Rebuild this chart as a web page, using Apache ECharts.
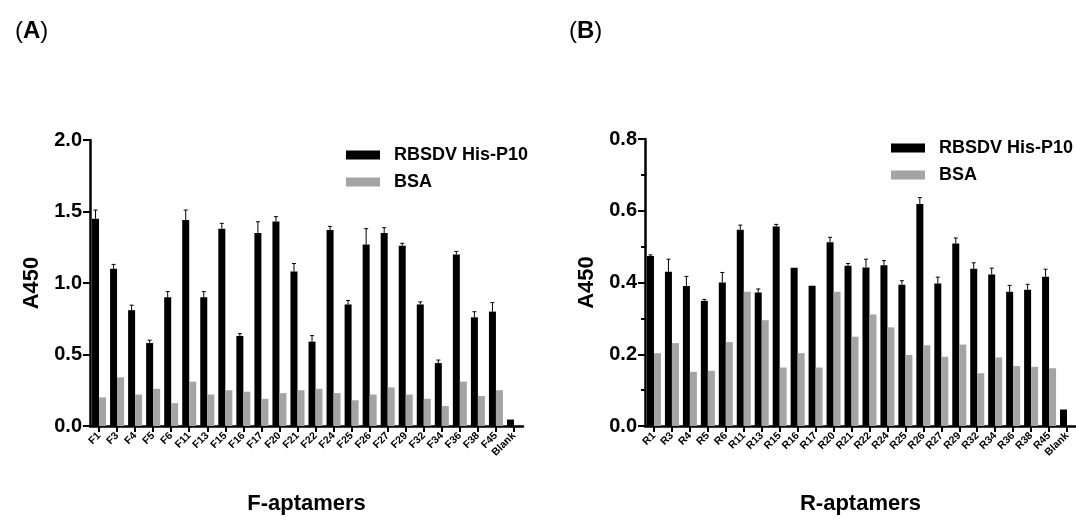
<!DOCTYPE html>
<html>
<head>
<meta charset="utf-8">
<script src="https://cdn.jsdelivr.net/npm/echarts@6/dist/echarts.min.js"></script>
<style>
html,body{margin:0;padding:0;background:#fff;}
#main{width:1076px;height:520px;}
</style>
</head>
<body>
<div id="main"></div>
<script>
// F-aptamers (panel A)
var fNames = ['F1','F3','F4','F5','F6','F11','F13','F15','F16','F17','F20','F21','F22','F24','F25','F26','F27','F29','F32','F34','F36','F38','F45','Blank'];
var fP10 = [1.45,1.10,0.81,0.58,0.90,1.44,0.90,1.38,0.63,1.35,1.43,1.08,0.59,1.37,0.85,1.27,1.35,1.26,0.85,0.44,1.20,0.76,0.80,0.045];
var fP10Err = [0.06,0.03,0.035,0.02,0.04,0.07,0.04,0.037,0.016,0.078,0.034,0.056,0.042,0.026,0.028,0.11,0.037,0.018,0.018,0.021,0.021,0.039,0.063,0];
var fBSA = [0.20,0.34,0.22,0.26,0.16,0.31,0.22,0.25,0.24,0.19,0.23,0.25,0.26,0.23,0.18,0.22,0.27,0.22,0.19,0.14,0.31,0.21,0.25,'-'];

// R-aptamers (panel B)
var rNames = ['R1','R3','R4','R5','R6','R11','R13','R15','R16','R17','R20','R21','R22','R24','R25','R26','R27','R29','R32','R34','R36','R38','R45','Blank'];
var rP10 = [0.474,0.430,0.390,0.349,0.400,0.547,0.372,0.556,0.441,0.391,0.512,0.447,0.442,0.448,0.394,0.619,0.397,0.509,0.438,0.422,0.374,0.380,0.416,0.046];
var rP10Err = [0.003,0.035,0.027,0.004,0.028,0.013,0.01,0.006,0,0,0.014,0.006,0.023,0.013,0.011,0.018,0.018,0.015,0.017,0.018,0.018,0.015,0.021,0];
var rBSA = [0.203,0.231,0.151,0.154,0.234,0.374,0.295,0.163,0.203,0.163,0.374,0.249,0.311,0.275,0.198,0.225,0.193,0.227,0.147,0.191,0.167,0.165,0.161,'-'];

var FONT = '"Liberation Sans", Arial, sans-serif';
var BW = 7;
var GREY = '#a4a4a4';

var myChart = echarts.init(document.getElementById('main'));

function errData(vals, errs){
    var out = [];
    for (var i = 0; i < vals.length; i++) {
        out.push([i, vals[i], errs[i]]);
    }
    return out;
}

// upper-only error bar on the black bar
function renderErr(params, api){
    var e = api.value(2);
    if (!e) return;
    var i = api.value(0), v = api.value(1);
    var p0 = api.coord([i, v]);
    var p1 = api.coord([i, v + e]);
    var x = p0[0] - BW / 2;
    return {
        type: 'group',
        children: [
            {type: 'line', shape: {x1: x, y1: p0[1], x2: x, y2: p1[1]}, style: {stroke: '#000', lineWidth: 1}},
            {type: 'line', shape: {x1: x - 2, y1: p1[1], x2: x + 2, y2: p1[1]}, style: {stroke: '#000', lineWidth: 1}}
        ]
    };
}

function xAxisCfg(idx, names, title){
    return {
        type: 'category', gridIndex: idx, data: names,
        name: title, nameLocation: 'middle', nameGap: 67,
        nameTextStyle: {fontFamily: FONT, fontWeight: 'bold', fontSize: 22, color: '#000'},
        axisLine: {lineStyle: {color: '#000', width: 2.5}},
        axisTick: {show: true, length: 6, lineStyle: {color: '#000', width: 2}, alignWithLabel: true},
        axisLabel: {rotate: 45, interval: 0, margin: 8, fontFamily: FONT, fontWeight: 'bold', fontSize: 10.5, color: '#000'}
    };
}

function yAxisCfg(idx, max, step, minor){
    return {
        type: 'value', gridIndex: idx, min: 0, max: max, interval: step,
        name: 'A450', nameLocation: 'middle', nameGap: 47,
        nameTextStyle: {fontFamily: FONT, fontWeight: 'bold', fontSize: 22, color: '#000'},
        axisLine: {show: true, lineStyle: {color: '#000', width: 2.5}},
        axisTick: {show: true, length: 7, lineStyle: {color: '#000', width: 2}},
        minorTick: {show: minor, splitNumber: 2, length: 4, lineStyle: {color: '#000', width: 2}},
        splitLine: {show: false},
        axisLabel: {margin: 8, fontFamily: FONT, fontWeight: 'bold', fontSize: 20, color: '#000',
            formatter: function(v){ return v.toFixed(1); }}
    };
}

function legendCfg(left, top){
    return {
        orient: 'vertical', left: left, top: top,
        itemWidth: 34, itemHeight: 9, itemGap: 9,
        icon: 'rect',
        data: ['RBSDV His-P10', 'BSA'],
        textStyle: {fontFamily: FONT, fontWeight: 'bold', fontSize: 18, color: '#000', padding: [0, 0, 0, 9]}
    };
}

var option = {
    animation: false,
    backgroundColor: '#fff',
    title: [
        {text: '({a|A})', left: 10, top: 14, textStyle: {fontFamily: FONT, fontSize: 24, fontWeight: 'normal', color: '#000', rich: {a: {fontFamily: FONT, fontSize: 24, fontWeight: 'bold'}}}},
        {text: '({a|B})', left: 564, top: 14, textStyle: {fontFamily: FONT, fontSize: 24, fontWeight: 'normal', color: '#000', rich: {a: {fontFamily: FONT, fontSize: 24, fontWeight: 'bold'}}}}
    ],
    legend: [legendCfg(341, 141), legendCfg(886, 134)],
    grid: [
        {left: 90, top: 140, width: 433, height: 288},
        {left: 645, top: 139, width: 433, height: 287}
    ],
    xAxis: [xAxisCfg(0, fNames, 'F-aptamers'), xAxisCfg(1, rNames, 'R-aptamers')],
    yAxis: [yAxisCfg(0, 2.0, 0.5, false), yAxisCfg(1, 0.8, 0.2, true)],
    series: [
        {name: 'RBSDV His-P10', type: 'bar', xAxisIndex: 0, yAxisIndex: 0, data: fP10, barWidth: BW, barGap: '0%', itemStyle: {color: '#000'}},
        {name: 'BSA', type: 'bar', xAxisIndex: 0, yAxisIndex: 0, data: fBSA, barWidth: BW, barGap: '0%', itemStyle: {color: GREY}},
        {type: 'custom', xAxisIndex: 0, yAxisIndex: 0, data: errData(fP10, fP10Err), renderItem: renderErr, z: 3},
        {name: 'RBSDV His-P10', type: 'bar', xAxisIndex: 1, yAxisIndex: 1, data: rP10, barWidth: BW, barGap: '0%', itemStyle: {color: '#000'}},
        {name: 'BSA', type: 'bar', xAxisIndex: 1, yAxisIndex: 1, data: rBSA, barWidth: BW, barGap: '0%', itemStyle: {color: GREY}},
        {type: 'custom', xAxisIndex: 1, yAxisIndex: 1, data: errData(rP10, rP10Err), renderItem: renderErr, z: 3}
    ]
};
myChart.setOption(option);
</script>
</body>
</html>
